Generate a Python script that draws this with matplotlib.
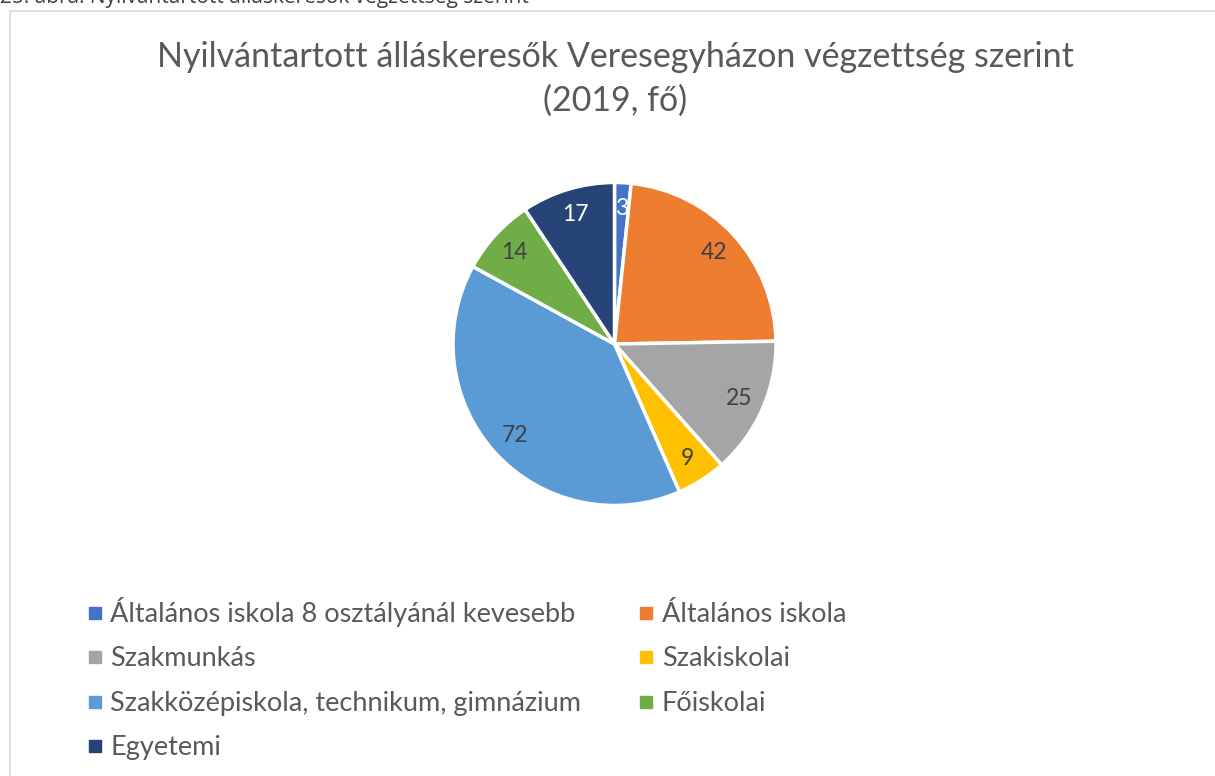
import matplotlib
matplotlib.use("Agg")
import matplotlib.pyplot as plt
from matplotlib.lines import Line2D
from matplotlib.patches import Rectangle

# ── DATA ───────────────────────────────────────────────────────
categories = [
    "Általános iskola 8 osztályánál kevesebb",
    "Általános iskola",
    "Szakmunkás",
    "Szakiskolai",
    "Szakközépiskola, technikum, gimnázium",
    "Főiskolai",
    "Egyetemi",
]
values = [3, 42, 25, 9, 72, 14, 17]
colors = ["#4472C4", "#ED7D31", "#A5A5A5", "#FFC000", "#5B9BD5", "#70AD47", "#264478"]

title = "Nyilvántartott álláskeresők Veresegyházon végzettség szerint\n(2019, fő)"
caption = "25. ábra: Nyilvántartott álláskeresők végzettség szerint"

plt.rcParams["font.family"] = ["Lato", "DejaVu Sans"]

W, H = 1215, 776
fig = plt.figure(figsize=(W / 100, H / 100), dpi=100)

# chart frame (only left/top edges are inside the picture)
fig.patches.append(Rectangle((9.5 / W, -0.2), 2, 1.2 - 10.5 / H,
                             transform=fig.transFigure, fill=False,
                             edgecolor="#d9d9d9", lw=1.2))

# caption of the document, cut by the top edge
fig.text(0.0, 1 - 3 / H, caption, ha="left", va="baseline",
         fontsize=15, color="#404040", family=["Open Sans", "DejaVu Sans"])

fig.text(615 / W, 1 - 79 / H, title, ha="center", va="center",
         fontsize=24.5, color="#595959", linespacing=1.45)

# ── PIE ────────────────────────────────────────────────────────
cx, cy, r = 614.5, 344, 161.5
ax = fig.add_axes([(cx - r) / W, 1 - (cy + r) / H, 2 * r / W, 2 * r / H])
total = sum(values)
wedges, _, autotexts = ax.pie(
    values, colors=colors, startangle=90, counterclock=False,
    wedgeprops=dict(edgecolor="white", linewidth=2.5),
    autopct=lambda p: f"{round(p * total / 100):.0f}",
    pctdistance=0.84, textprops=dict(fontsize=16.5, color="#404040"),
)
for t, c in zip(autotexts, colors):
    if c in ("#4472C4", "#264478"):
        t.set_color("white")
ax.set_xlim(-1, 1)
ax.set_ylim(-1, 1)

# ── LEGEND ─────────────────────────────────────────────────────
handles = [Line2D([], [], marker="s", linestyle="", markersize=8,
                  markerfacecolor=c, markeredgecolor=c) for c in colors]
order = [0, 2, 4, 6, 1, 3, 5]
fig.legend([handles[i] for i in order], [categories[i] for i in order],
           ncol=2, loc="upper left", bbox_to_anchor=(88 / W, 1 - 597 / H),
           frameon=False, fontsize=19.5, labelcolor="#595959",
           handlelength=0.5, handletextpad=0.32, labelspacing=0.72,
           columnspacing=2.15, borderaxespad=0, borderpad=0)

fig.savefig("out.png", dpi=100, facecolor="white")
